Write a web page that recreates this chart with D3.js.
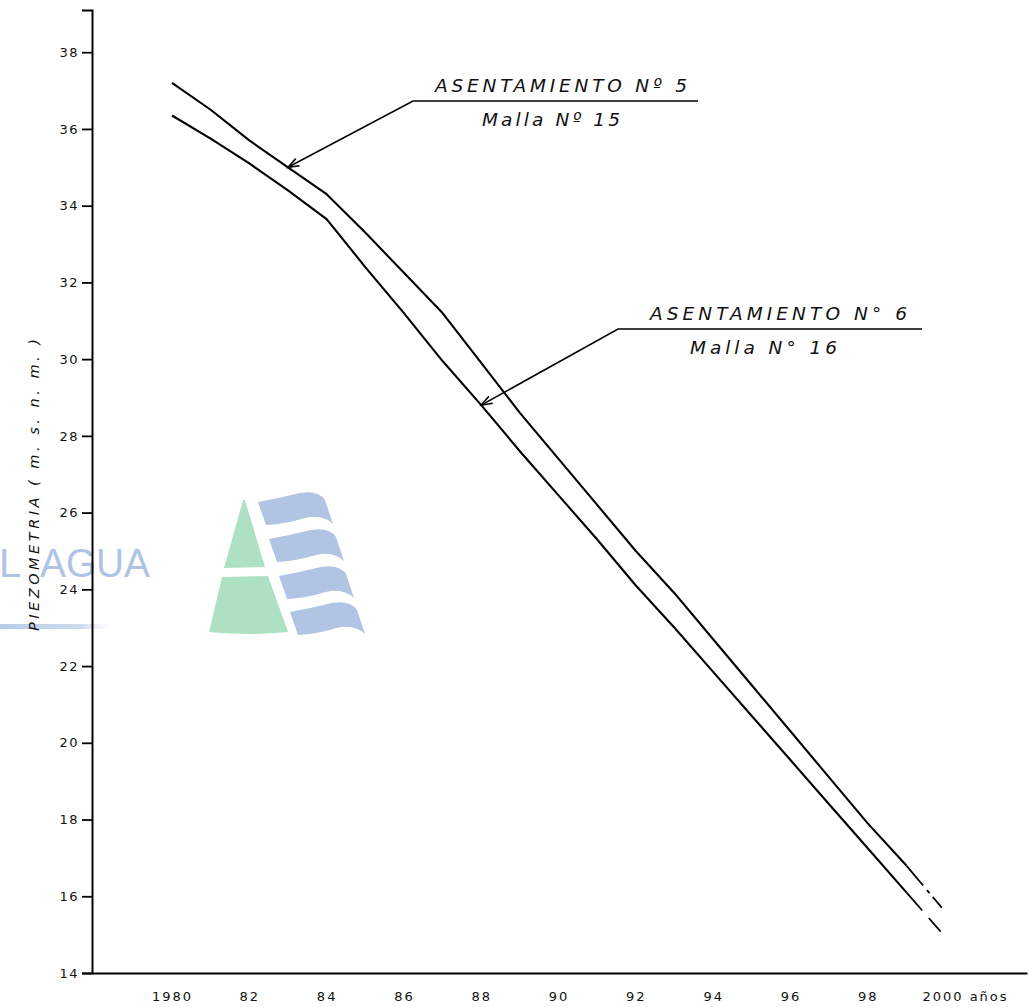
<!DOCTYPE html>
<html>
<head>
<meta charset="utf-8">
<script src="https://cdn.jsdelivr.net/npm/d3@7"></script>
<style>
  body { margin: 0; background: #fff; }
  svg { display: block; background: #fff; }
  text { font-family: "DejaVu Sans", "Liberation Sans", sans-serif; }
</style>
</head>
<body>
<svg id="chart" width="1029" height="1007"></svg>
<script>
// Piezometric level (m s.n.m.) per year, two settlement points
const years = [1980, 1981, 1982, 1983, 1984, 1985, 1986, 1987, 1988, 1989, 1990,
               1991, 1992, 1993, 1994, 1995, 1996, 1997, 1998, 1999, 2000];
// ASENTAMIENTO Nº 5 – Malla Nº 15
const asentamiento5 = [37.2, 36.5, 35.7, 35.0, 34.3, 33.3, 32.25, 31.2, 29.9, 28.6, 27.4,
                       26.2, 25.0, 23.9, 22.7, 21.5, 20.3, 19.1, 17.9, 16.8, 15.6];
// ASENTAMIENTO Nº 6 – Malla Nº 16
const asentamiento6 = [36.35, 35.75, 35.1, 34.4, 33.65, 32.4, 31.2, 29.95, 28.8, 27.6, 26.45,
                       25.3, 24.1, 23.0, 21.85, 20.7, 19.55, 18.4, 17.25, 16.1, 14.95];

const yTicks = [14, 16, 18, 20, 22, 24, 26, 28, 30, 32, 34, 36, 38];
const xTicks = [1980, 1982, 1984, 1986, 1988, 1990, 1992, 1994, 1996, 1998, 2000];
const xTickLabels = ["1980", "82", "84", "86", "88", "90", "92", "94", "96", "98", "2000"];
const xUnit = "años";
const yTitle = "PIEZOMETRIA  ( m. s. n. m. )";

const svg = d3.select("#chart");
const defs = svg.append("defs");

const x = d3.scaleLinear().domain([1977.93, 2002.12]).range([92, 1027]);
const y = d3.scaleLinear().domain([14, 39.1]).range([973, 10]);

// ---- watermark (faint logo behind the plot) ----
const wm = svg.append("g").attr("class", "watermark").attr("opacity", 0.92);
const grad = defs.append("linearGradient").attr("id", "wmbar");
grad.append("stop").attr("offset", "0%").attr("stop-color", "#b3c8e6");
grad.append("stop").attr("offset", "70%").attr("stop-color", "#c9d8ee");
grad.append("stop").attr("offset", "100%").attr("stop-color", "#ffffff").attr("stop-opacity", 0);
const wmText = wm.append("text")
  .attr("y", 577)
  .style("font-family", "'Liberation Sans', Arial, sans-serif")
  .style("font-size", "40px")
  .attr("fill", "#a9c0e2");
wmText.append("tspan").attr("x", -1).text("L");
wmText.append("tspan").attr("x", 40).attr("textLength", 110).attr("lengthAdjust", "spacingAndGlyphs").text("AGUA");
wm.append("rect").attr("x", 0).attr("y", 624).attr("width", 118).attr("height", 5)
  .attr("fill", "url(#wmbar)");
// triangle (two parts)
wm.append("path").attr("d", "M243,500 L245,500 L265,567 L224,568 Z").attr("fill", "#a8dfc0");
wm.append("path").attr("d", "M222,577 L268,576 L288,632 Q250,636 209,632 Z").attr("fill", "#a8dfc0");
// four wave bands
const wave = (dx, dy) =>
  `M${258 + dx},${502 + dy} Q${280 + dx},${498 + dy} ${300 + dx},${493 + dy} Q${318 + dx},${490 + dy} ${325 + dx},${500 + dy}` +
  ` L${333 + dx},${524 + dy} Q${322 + dx},${514 + dy} ${305 + dx},${518 + dy} Q${285 + dx},${524 + dy} ${266 + dx},${525 + dy} Z`;
[[0, 0], [11, 37], [21, 74], [32, 110]].forEach(([dx, dy]) => {
  wm.append("path").attr("d", wave(dx, dy)).attr("fill", "#abc0e1");
});

// ---- axes ----
const yAxis = d3.axisLeft(y).tickValues(yTicks).tickSize(10).tickFormat(d3.format("d"));
const gy = svg.append("g").attr("transform", `translate(${x.range()[0]},0)`).call(yAxis);
gy.select(".domain").attr("stroke", "#000").attr("stroke-width", 2);
gy.selectAll(".tick line").attr("stroke", "#000").attr("stroke-width", 1.8);
gy.selectAll(".tick text")
  .attr("x", -13)
  .style("font-size", "13px")
  .style("letter-spacing", "1.5px")
  .attr("fill", "#111");

const xAxis = d3.axisBottom(x).tickValues(xTicks).tickSize(0)
  .tickFormat((d, i) => xTickLabels[i]);
const gx = svg.append("g").attr("transform", `translate(0,${y.range()[0]})`).call(xAxis);
gx.select(".domain").attr("stroke", "#000").attr("stroke-width", 2);
gx.selectAll(".tick text")
  .attr("y", 19)
  .style("font-size", "13px")
  .style("letter-spacing", "2px")
  .attr("fill", "#111");
// unit after the last year
gx.selectAll(".tick").filter(d => d === 2000).select("text")
  .attr("text-anchor", "start").attr("x", -23)
  .append("tspan").attr("dx", 6).text(xUnit);

// y-axis title
svg.append("text")
  .attr("transform", `translate(39,485) rotate(-90)`)
  .attr("text-anchor", "middle")
  .style("font-size", "14.5px")
  .style("font-style", "italic")
  .attr("textLength", 292)
  .attr("lengthAdjust", "spacing")
  .attr("fill", "#111")
  .text(yTitle);

// ---- series ----
const line = d3.line().x(d => x(d[0])).y(d => y(d[1]));
function drawSeries(values, tailDash) {
  const pts = years.map((yr, i) => [yr, values[i]]);
  const solid = pts.slice(0, pts.length - 1);
  const tail = pts.slice(pts.length - 2);
  svg.append("path").datum(solid).attr("d", line)
    .attr("fill", "none").attr("stroke", "#000").attr("stroke-width", 2.1)
    .attr("stroke-linejoin", "round");
  svg.append("path").datum(tail).attr("d", line)
    .attr("fill", "none").attr("stroke", "#000").attr("stroke-width", 1.8)
    .attr("stroke-dasharray", tailDash);
}
drawSeries(asentamiento5, "26,6,4,5,14");
drawSeries(asentamiento6, "24,10,18");

// ---- callouts ----
defs.append("marker")
  .attr("id", "arrow").attr("viewBox", "-12 -6 14 12")
  .attr("refX", 0).attr("refY", 0)
  .attr("markerWidth", 14).attr("markerHeight", 12)
  .attr("markerUnits", "userSpaceOnUse")
  .attr("orient", "auto")
  .append("path").attr("d", "M-11,-4 L0,0 L-11,4")
  .attr("fill", "none").attr("stroke", "#000").attr("stroke-width", 1.6);

function callout(o) {
  const g = svg.append("g");
  g.append("path")
    .attr("d", `M${o.lineEnd},${o.lineY} L${o.lineStart},${o.lineY} L${o.tip[0]},${o.tip[1]}`)
    .attr("fill", "none").attr("stroke", "#000").attr("stroke-width", 1.6)
    .attr("marker-end", "url(#arrow)");
  g.append("text")
    .attr("x", o.t1x).attr("y", o.lineY - 9)
    .style("font-size", "18.5px").style("font-style", "italic")
    .attr("textLength", o.t1w).attr("lengthAdjust", "spacing")
    .attr("fill", "#111").text(o.title);
  g.append("text")
    .attr("x", o.t2x).attr("y", o.lineY + 25)
    .style("font-size", "18.5px").style("font-style", "italic")
    .attr("textLength", o.t2w).attr("lengthAdjust", "spacing")
    .attr("fill", "#111").text(o.sub);
}
callout({
  title: "ASENTAMIENTO Nº 5", sub: "Malla Nº 15",
  tip: [x(years[3]), y(asentamiento5[3])],
  lineStart: 413, lineEnd: 698, lineY: 101,
  t1x: 435, t1w: 252, t2x: 482, t2w: 138
});
callout({
  title: "ASENTAMIENTO N° 6", sub: "Malla N° 16",
  tip: [x(years[8]), y(asentamiento6[8])],
  lineStart: 618, lineEnd: 922, lineY: 329,
  t1x: 650, t1w: 257, t2x: 690, t2w: 147
});
</script>
</body>
</html>
